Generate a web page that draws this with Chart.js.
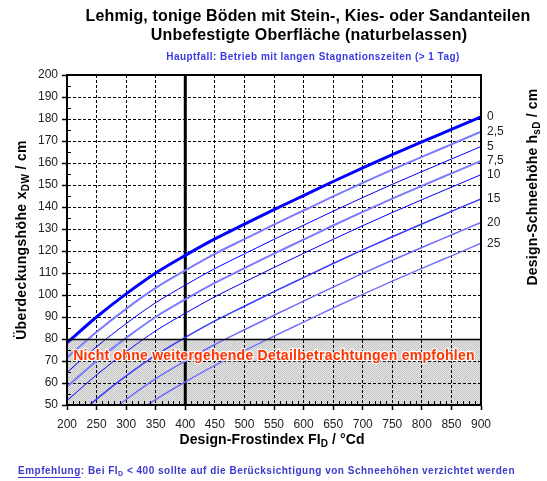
<!DOCTYPE html>
<html><head><meta charset="utf-8">
<script src="https://cdn.jsdelivr.net/npm/chart.js@4.4.1/dist/chart.umd.min.js"></script>
<style>html,body{margin:0;padding:0;background:#fff}#wrap{width:547px;height:481px;position:relative}canvas{display:block}</style>
</head><body><div id="wrap"><canvas id="c" width="547" height="481"></canvas></div>
<script>
// ---- data ----
const frostIndex = [200,250,300,350,400,450,500,550,600,650,700,750,800,850,900];
const snow0   = [78.3,90,100.5,110,118,125.5,132.2,138.8,145.2,151.6,157.8,163.8,169.6,175.3,181];
const snow2_5 = [71.5,83.2,93.7,103.2,111.2,118.7,125.4,132,138.4,144.8,151,157,162.8,168.5,174.2];
const snow5   = [64.8,76.5,87,96.5,104.5,112,118.7,125.3,131.7,138.1,144.3,150.3,156.1,161.8,167.5];
const snow7_5 = [58.3,70,80.5,90,98,105.5,112.2,118.8,125.2,131.6,137.8,143.8,149.6,155.3,161];
const snow10  = [52,63.7,74.2,83.7,91.7,99.2,105.9,112.5,118.9,125.3,131.5,137.5,143.3,149,154.7];
const snow15  = [41,52.7,63.2,72.7,80.7,88.2,94.9,101.5,107.9,114.3,120.5,126.5,132.3,138,143.7];
const snow20  = [30.3,42,52.5,62,70,77.5,84.2,90.8,97.2,103.6,109.8,115.8,121.6,127.3,133];
const snow25  = [20.8,32.5,43,52.5,60.5,68,74.7,81.3,87.7,94.1,100.3,106.3,112.1,117.8,123.5];
const snowLabels = ['0','2,5','5','7,5','10','15','20','25'];
const xRange = [200, 900];
const yRange = [50, 200];
const xStep = 50, yStep = 10, xMinorStep = 10, yMinorStep = 5;
const thresholdFI = 400;
const bandLimit = 80;

// ---- styles ----
const FONT = "Arial, 'Liberation Sans', sans-serif";
const seriesList = [snow0, snow2_5, snow5, snow7_5, snow10, snow15, snow20, snow25];
const lineColors = ['#0000FF','#7B7BFF','#0000FF','#7B7BFF','#0000FF','#3838FF','#6C6CFF','#7474FF'];
const lineWidths = [3, 2, 1, 2, 1, 1.5, 1.5, 1.5];

const datasets = seriesList.map((s, i) => ({
  label: snowLabels[i],
  data: frostIndex.map((x, j) => ({ x: x, y: s[j] })),
  borderColor: lineColors[i], borderWidth: lineWidths[i],
  pointRadius: 0, fill: false, cubicInterpolationMode: 'monotone', clip: 0
}));
datasets.push({
  label: 'threshold',
  data: [{ x: thresholdFI, y: yRange[0] }, { x: thresholdFI, y: yRange[1] }],
  borderColor: '#000', borderWidth: 3, pointRadius: 0, fill: false, clip: 0
});

function makePattern(ctx) {
  const p = document.createElement('canvas'); p.width = 2; p.height = 2;
  const g = p.getContext('2d');
  g.fillStyle = '#e6e6e6'; g.fillRect(0, 0, 2, 2);
  g.fillStyle = '#c4c4c4'; g.fillRect(0, 0, 1, 1); g.fillRect(1, 1, 1, 1);
  return ctx.createPattern(p, 'repeat');
}

function drawRuns(ctx, runs, x, y, align, spacing) {
  ctx.letterSpacing = (spacing || 0) + 'px';
  let w = 0;
  runs.forEach(r => { ctx.font = r.font; r.w = ctx.measureText(r.t).width; w += r.w; });
  let cx = align === 'center' ? x - w / 2 : x;
  runs.forEach(r => {
    ctx.font = r.font;
    ctx.fillText(r.t, cx, y + (r.dy || 0));
    if (r.underline) { ctx.fillRect(cx, y + 6, r.w, 1); }
    cx += r.w;
  });
  ctx.letterSpacing = '0px';
}

const decorPlugin = {
  id: 'decor',
  beforeDraw(chart) {
    const { ctx, chartArea: a, scales: { x, y } } = chart;
    ctx.save();
    ctx.fillStyle = '#fff'; ctx.fillRect(0, 0, chart.width, chart.height);
    const yTop = y.getPixelForValue(bandLimit), yBot = y.getPixelForValue(yRange[0]);
    ctx.fillStyle = makePattern(ctx);
    ctx.fillRect(a.left, yTop, a.right - a.left, yBot - yTop);
    ctx.restore();
  },
  afterDatasetsDraw(chart) {
    const { ctx, chartArea: a, scales: { x, y } } = chart;
    ctx.save();
    const yTop = Math.round(y.getPixelForValue(bandLimit)) + 0.5;
    ctx.strokeStyle = '#000'; ctx.lineWidth = 1.5;
    ctx.beginPath(); ctx.moveTo(a.left, yTop); ctx.lineTo(a.right, yTop); ctx.stroke();
    ctx.lineWidth = 1;
    ctx.beginPath();
    for (let v = yRange[0]; v <= yRange[1]; v += yMinorStep) {
      if (v % yStep === 0) continue;
      const py = Math.round(y.getPixelForValue(v)) + 0.5;
      ctx.moveTo(a.left, py); ctx.lineTo(a.left + 4, py);
    }
    for (let v = xRange[0]; v <= xRange[1]; v += xMinorStep) {
      if (v % xStep === 0) continue;
      const px = Math.round(x.getPixelForValue(v)) + 0.5;
      ctx.moveTo(px, a.bottom); ctx.lineTo(px, a.bottom - 4);
    }
    ctx.stroke();
    ctx.lineWidth = 2;
    ctx.strokeRect(Math.round(a.left), Math.round(a.top), Math.round(a.right - a.left), Math.round(a.bottom - a.top));
    // red warning text
    ctx.font = 'bold 14px ' + FONT;
    ctx.letterSpacing = '0.25px';
    ctx.textAlign = 'center'; ctx.textBaseline = 'middle';
    const tx = (a.left + a.right) / 2, ty = (y.getPixelForValue(bandLimit) + y.getPixelForValue(yRange[0])) / 2 - 16;
    ctx.lineWidth = 2.5; ctx.strokeStyle = 'rgba(255,255,255,0.85)'; ctx.lineJoin = 'round';
    ctx.strokeText('Nicht ohne weitergehende Detailbetrachtungen empfohlen', tx, ty);
    ctx.fillStyle = '#FF3300';
    ctx.fillText('Nicht ohne weitergehende Detailbetrachtungen empfohlen', tx, ty);
    ctx.letterSpacing = '0px';
    ctx.font = '12px ' + FONT; ctx.fillStyle = '#222'; ctx.textAlign = 'left';
    seriesList.forEach((s, i) => {
      ctx.fillText(snowLabels[i], a.right + 6, y.getPixelForValue(s[s.length - 1]));
    });
    ctx.restore();
  },
  afterDraw(chart) {
    const { ctx, chartArea: a } = chart;
    ctx.save();
    ctx.textBaseline = 'middle'; ctx.textAlign = 'left';
    ctx.fillStyle = '#000';
    drawRuns(ctx, [{ t: 'Lehmig, tonige Böden mit Stein-, Kies- oder Sandanteilen', font: 'bold 16px ' + FONT }], 308, 17, 'center', 0.15);
    drawRuns(ctx, [{ t: 'Unbefestigte Oberfläche (naturbelassen)', font: 'bold 16px ' + FONT }], 309, 36, 'center', 0.2);
    ctx.fillStyle = '#3B3BE6';
    drawRuns(ctx, [{ t: 'Hauptfall: Betrieb mit langen Stagnationszeiten (> 1 Tag)', font: 'bold 10px ' + FONT }], 313, 57, 'center', 0.45);
    ctx.fillStyle = '#000';
    drawRuns(ctx, [
      { t: 'Design-Frostindex FI', font: 'bold 14px ' + FONT },
      { t: 'D', font: 'bold 10px ' + FONT, dy: 4 },
      { t: ' / °Cd', font: 'bold 14px ' + FONT }
    ], 272, 440, 'center', 0.1);
    ctx.save(); ctx.translate(22, (a.top + a.bottom) / 2); ctx.rotate(-Math.PI / 2);
    drawRuns(ctx, [
      { t: 'Überdeckungshöhe x', font: 'bold 14px ' + FONT },
      { t: 'DW', font: 'bold 10px ' + FONT, dy: 4 },
      { t: ' / cm', font: 'bold 14px ' + FONT }
    ], 0, 0, 'center', 0.35);
    ctx.restore();
    ctx.save(); ctx.translate(533, 187); ctx.rotate(-Math.PI / 2);
    drawRuns(ctx, [
      { t: 'Design-Schneehöhe h', font: 'bold 14px ' + FONT },
      { t: 'sD', font: 'bold 10px ' + FONT, dy: 4 },
      { t: ' / cm', font: 'bold 14px ' + FONT }
    ], 0, 0, 'center', 0.2);
    ctx.restore();
    ctx.fillStyle = '#3A3ACF';
    drawRuns(ctx, [
      { t: 'Empfehlung', font: 'bold 10px ' + FONT, underline: true },
      { t: ': Bei FI', font: 'bold 10px ' + FONT },
      { t: 'D', font: 'bold 7px ' + FONT, dy: 3 },
      { t: ' < 400 sollte auf die Berücksichtigung von Schneehöhen verzichtet werden', font: 'bold 10px ' + FONT }
    ], 18, 471, 'left', 0.5);
    ctx.restore();
  }
};

const tickFont = { family: FONT, size: 12 };
new Chart(document.getElementById('c').getContext('2d'), {
  type: 'line',
  data: { datasets: datasets },
  options: {
    responsive: false, animation: false, devicePixelRatio: 1,
    layout: { padding: { left: 0, right: 66, top: 75, bottom: 0 } },
    plugins: { legend: { display: false }, tooltip: { enabled: false } },
    scales: {
      x: {
        type: 'linear', min: xRange[0], max: xRange[1],
        ticks: { stepSize: xStep, font: tickFont, color: '#222', padding: 7, maxRotation: 0, autoSkip: false },
        grid: { color: '#000', lineWidth: 1, tickLength: 5, tickColor: '#000', tickWidth: 1.5 },
        border: { display: true, width: 2, color: '#000', dash: [3, 2] },
        afterFit: s => { s.height = 76; }
      },
      y: {
        type: 'linear', min: yRange[0], max: yRange[1],
        ticks: { stepSize: yStep, font: tickFont, color: '#222', padding: 4, autoSkip: false },
        grid: { color: '#000', lineWidth: 1, tickLength: 5, tickColor: '#000', tickWidth: 1.5 },
        border: { display: true, width: 2, color: '#000', dash: [3, 2] },
        afterFit: s => { s.width = 67; }
      }
    }
  },
  plugins: [decorPlugin]
});
</script>
</body></html>
